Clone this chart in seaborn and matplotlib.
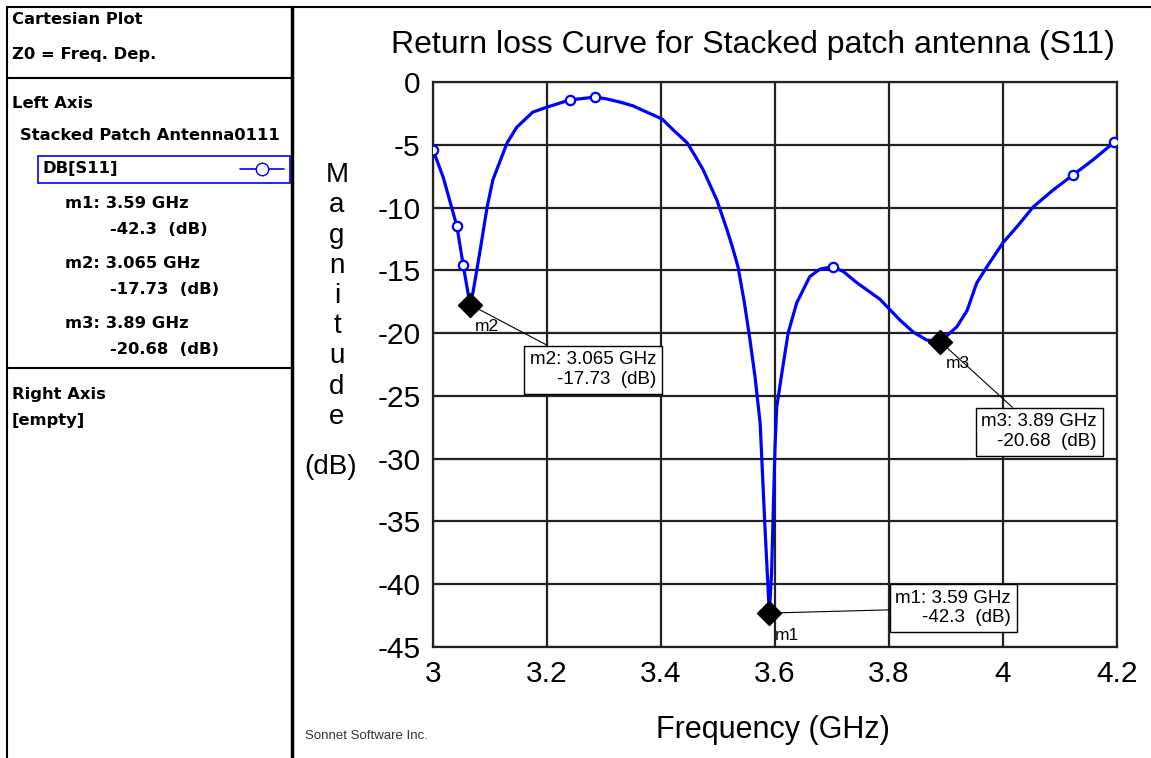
import matplotlib
matplotlib.use("Agg")
import matplotlib.pyplot as plt
from matplotlib.lines import Line2D
from matplotlib.patches import Rectangle
import seaborn as sns

# S11 curve (GHz, dB)
freq = [3.000, 3.018, 3.042, 3.053, 3.065, 3.070, 3.082, 3.095, 3.105, 3.130,
        3.147, 3.175, 3.200, 3.240, 3.284, 3.305, 3.328, 3.351, 3.375, 3.402,
        3.421, 3.446, 3.460, 3.474, 3.486, 3.498, 3.507, 3.516, 3.525, 3.535,
        3.546, 3.556, 3.565, 3.574, 3.582, 3.590, 3.594, 3.600, 3.603, 3.612,
        3.623, 3.638, 3.661, 3.679, 3.702, 3.720, 3.744, 3.761, 3.784, 3.819,
        3.842, 3.866, 3.890, 3.919, 3.937, 3.954, 3.972, 4.000, 4.025, 4.053,
        4.088, 4.123, 4.158, 4.195]
s11_db = [-5.4, -7.6, -11.5, -14.6, -17.73, -16.8, -13.6, -9.95, -7.8, -4.85,
          -3.6, -2.4, -2.0, -1.43, -1.2, -1.35, -1.6, -1.9, -2.4, -2.95,
          -3.8, -4.85, -5.9, -7.0, -8.2, -9.4, -10.6, -11.8, -13.1, -14.7,
          -17.5, -20.5, -23.5, -27.2, -35.1, -42.3, -39.1, -29.1, -25.9, -23.2,
          -20.0, -17.6, -15.5, -14.9, -14.7, -15.1, -16.0, -16.55, -17.3, -18.95,
          -19.9, -20.55, -20.68, -19.5, -18.2, -16.0, -14.7, -12.8, -11.5, -9.95,
          -8.6, -7.4, -6.2, -4.8]

# simulated sample points (hollow circles)
sample_freq = [3.0, 3.042, 3.053, 3.240, 3.284, 3.702, 4.123, 4.195]
sample_db = [-5.4, -11.5, -14.6, -1.43, -1.2, -14.7, -7.4, -4.8]

# markers
marker_names = ["m1", "m2", "m3"]
marker_freq = [3.59, 3.065, 3.89]
marker_db = [-42.3, -17.73, -20.68]
marker_freq_txt = ["3.59", "3.065", "3.89"]
marker_db_txt = ["-42.3", "-17.73", "-20.68"]

x_ticks = [3.0, 3.2, 3.4, 3.6, 3.8, 4.0, 4.2]
x_tick_labels = ["3", "3.2", "3.4", "3.6", "3.8", "4", "4.2"]
y_ticks = [0, -5, -10, -15, -20, -25, -30, -35, -40, -45]
y_tick_labels = ["0", "-5", "-10", "-15", "-20", "-25", "-30", "-35", "-40", "-45"]

sns.set_style("white")
plt.rcParams["font.family"] = ["Liberation Sans", "DejaVu Sans"]
plt.rcParams["axes.unicode_minus"] = False
plt.rcParams["text.color"] = "black"
plt.rcParams["xtick.color"] = "black"
plt.rcParams["ytick.color"] = "black"

W, H = 1151, 758
fig = plt.figure(figsize=(W / 100, H / 100), dpi=100)
ax = fig.add_axes([433 / W, 1 - 647 / H, (1117 - 433) / W, (647 - 82) / H])

sns.lineplot(x=freq, y=s11_db, ax=ax, color="#0000ff", linewidth=2.3,
             estimator=None, sort=False, zorder=3)
sns.scatterplot(x=sample_freq, y=sample_db, ax=ax, marker="o", s=45,
                facecolor="white", edgecolor="#0000ff", linewidth=1.6, zorder=4)
sns.scatterplot(x=marker_freq, y=marker_db, ax=ax, marker="D", s=150,
                color="black", edgecolor="black", zorder=5)

ax.set_xlim(3.0, 4.2)
ax.set_ylim(-45, 0)
ax.set_xticks(x_ticks)
ax.set_xticklabels(x_tick_labels, fontsize=21.5)
ax.set_yticks(y_ticks)
ax.set_yticklabels(y_tick_labels, fontsize=21.5)
ax.grid(True, color="#222222", linewidth=1.6)
for sp in ax.spines.values():
    sp.set_color("#222222")
    sp.set_linewidth(1.6)
ax.tick_params(direction="out", length=6, width=1.2, color="#222222", pad=3)
ax.set_xlabel("")
ax.set_ylabel("")

fig.text(753 / W, 1 - 45 / H, "Return loss Curve for Stacked patch antenna (S11)",
         ha="center", va="center", fontsize=23)

# marker annotation boxes (offsets in pixels)
box_offsets = [(126, 5), (60, -65), (41, -90)]
for name, fx, fy, ft, dt, off in zip(marker_names, marker_freq, marker_db,
                                     marker_freq_txt, marker_db_txt, box_offsets):
    ax.annotate(f"{name}: {ft} GHz\n{dt}  (dB)", xy=(fx, fy), xytext=off,
                textcoords="offset pixels", ha="left", va="center",
                multialignment="right", fontsize=13.5, linespacing=1.2,
                bbox=dict(boxstyle="square,pad=0.3", fc="white", ec="black", lw=1),
                arrowprops=dict(arrowstyle="-", color="black", lw=0.8,
                                shrinkA=0, shrinkB=4),
                zorder=6)
    ax.annotate(name, xy=(fx, fy), xytext=(5, -22), textcoords="offset pixels",
                ha="left", va="center", fontsize=12.5, zorder=6)

# vertical y label
fig.text(337 / W, 1 - 296 / H, "M\na\ng\nn\ni\nt\nu\nd\ne", ha="center", va="center",
         fontsize=20, linespacing=1.21)
fig.text(331 / W, 1 - 467 / H, "(dB)", ha="center", va="center", fontsize=20)
fig.text(773 / W, 1 - 730 / H, "Frequency (GHz)", ha="center", va="center", fontsize=22)
fig.text(305 / W, 1 - 736 / H, "Sonnet Software Inc.", ha="left", va="center",
         fontsize=9.5, color="#333333")

# frame of the Sonnet window
def fline(x0, y0, x1, y1, lw=1.5):
    fig.add_artist(Line2D([x0 / W, x1 / W], [1 - y0 / H, 1 - y1 / H],
                          color="black", linewidth=lw))

fline(7, 7, W, 7)
fline(7, 7, 7, H)
fline(292, 7, 292, H, lw=2.5)
fline(7, 78, 292, 78)
fline(7, 368, 292, 368)

# left info panel
panel = dict(fontsize=11.8, fontweight="bold", ha="left", va="center",
             family=["DejaVu Sans"], color="black")
fig.text(12 / W, 1 - 20 / H, "Cartesian Plot", **panel)
fig.text(12 / W, 1 - 55 / H, "Z0 = Freq. Dep.", **panel)
fig.text(12 / W, 1 - 103 / H, "Left Axis", **panel)
fig.text(20 / W, 1 - 135 / H, "Stacked Patch Antenna0111", **panel)
fig.add_artist(Rectangle((38 / W, 1 - 183 / H), (290 - 38) / W, 27 / H,
                         transform=fig.transFigure, fill=False, ec="#0000ff", lw=1.2))
fig.text(42 / W, 1 - 169 / H, "DB[S11]", **panel)
fig.add_artist(Line2D([240 / W, 284 / W], [1 - 169 / H, 1 - 169 / H], color="#0000ff",
                      linewidth=1.2))
fig.add_artist(Line2D([262 / W], [1 - 169 / H], color="#0000ff", linestyle="none",
                      marker="o", markersize=9, markerfacecolor="white",
                      markeredgecolor="#0000ff"))
rows = [203, 263, 323]
for name, ft, dt, ry in zip(marker_names, marker_freq_txt, marker_db_txt, rows):
    fig.text(65 / W, 1 - ry / H, f"{name}: {ft} GHz", **panel)
    fig.text(110 / W, 1 - (ry + 27) / H, f"{dt}  (dB)", **panel)
fig.text(12 / W, 1 - 395 / H, "Right Axis", **panel)
fig.text(12 / W, 1 - 420 / H, "[empty]", **panel)

fig.savefig("out.png", dpi=100)
